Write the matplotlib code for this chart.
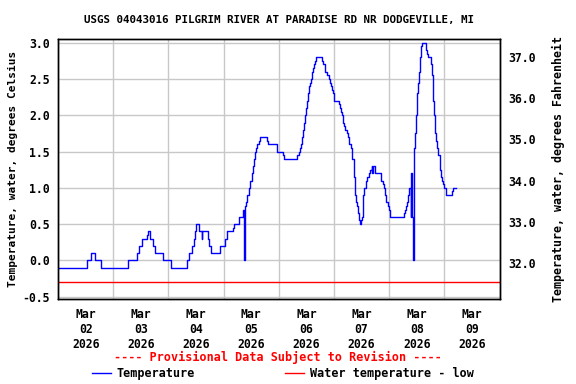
import numpy as np
import matplotlib
matplotlib.use('Agg')
import matplotlib.pyplot as plt
import matplotlib.dates as mdates
from matplotlib.lines import Line2D

# hours since 2026-03-02 00:00, water temperature in deg C
hours = [0, 12.7, 14.3, 16.2, 18.5, 30.6, 34.5, 35.3, 36.5, 38.8,
         39.3, 40.1, 41.1, 42.2, 45.6, 49.3, 56.1, 57.1, 58.1, 59.3,
         59.7, 60.1, 61.4, 62.5, 62.8, 65.0, 65.8, 66.7, 70.3, 72.8,
         73.5, 76.2, 76.7, 78.8, 80.6, 80.7, 80.9, 81.5, 81.9, 82.3,
         83.2, 83.6, 84.5, 84.9, 85.4, 85.8, 86.2, 86.7, 87.5, 88.0,
         91.0, 91.5, 95.0, 97.7, 98.1, 104.1, 104.7, 105.2, 105.7, 106.2,
         106.7, 107.1, 107.6, 108.0, 108.4, 108.9, 109.3, 109.7, 110.0, 110.5,
         110.9, 111.3, 111.8, 112.2, 114.9, 115.4, 116.3, 117.1, 118.0, 118.4,
         118.9, 119.3, 119.7, 120.2, 122.1, 122.5, 123.1, 123.5, 123.9, 124.4,
         124.8, 125.5, 126.0, 126.4, 127.3, 127.7, 128.6, 129.0, 129.5, 129.9,
         130.3, 130.8, 131.2, 131.6, 132.1, 132.5, 132.8, 133.2, 134.0, 134.5,
         135.1, 135.7, 136.6, 136.7, 137.1, 137.9, 140.5, 141.2, 141.6, 142.1,
         142.5, 143.4, 143.8, 144.4, 150.5, 150.9, 151.4, 151.9, 152.4, 152.8,
         153.4, 153.5, 153.7, 154.0, 154.3, 154.7, 155.0, 155.4, 155.8, 156.3,
         156.7, 157.1, 157.6, 158.0, 158.5, 160.2, 160.6, 161.1, 162.4, 162.8,
         163.2, 163.7, 164.1, 164.5, 165.0, 165.4, 165.9, 166.3, 166.7, 167.2,
         167.6, 168.0, 168.9, 171.2, 171.6, 173.0]
temp_c = [-0.1, 0.0, 0.1, 0.0, -0.1, 0.0, 0.1, 0.2, 0.3, 0.35,
          0.4, 0.3, 0.2, 0.1, 0.0, -0.1, 0.0, 0.1, 0.2, 0.3,
          0.4, 0.5, 0.4, 0.3, 0.4, 0.3, 0.2, 0.1, 0.2, 0.3,
          0.4, 0.45, 0.5, 0.6, 0.7, 0.35, 0.0, 0.75, 0.8, 0.9,
          1.0, 1.1, 1.2, 1.3, 1.4, 1.5, 1.55, 1.6, 1.65, 1.7,
          1.65, 1.6, 1.5, 1.45, 1.4, 1.45, 1.5, 1.55, 1.6, 1.7,
          1.8, 1.9, 2.0, 2.1, 2.2, 2.3, 2.4, 2.45, 2.5, 2.6,
          2.65, 2.7, 2.75, 2.8, 2.75, 2.7, 2.6, 2.55, 2.5, 2.45,
          2.4, 2.35, 2.3, 2.2, 2.15, 2.1, 2.05, 2.0, 1.9, 1.85,
          1.8, 1.75, 1.7, 1.6, 1.55, 1.4, 1.15, 0.9, 0.8, 0.75,
          0.65, 0.55, 0.5, 0.55, 0.6, 0.75, 0.9, 1.0, 1.1, 1.15,
          1.2, 1.25, 1.3, 1.2, 1.3, 1.2, 1.1, 1.05, 1.0, 0.9,
          0.8, 0.75, 0.7, 0.6, 0.65, 0.7, 0.75, 0.8, 0.9, 1.0,
          1.15, 0.6, 1.2, 0.6, 0.0, 1.45, 1.55, 1.75, 2.0, 2.3,
          2.45, 2.6, 2.8, 2.95, 3.0, 2.9, 2.85, 2.8, 2.7, 2.55,
          2.2, 2.0, 1.75, 1.65, 1.55, 1.45, 1.35, 1.25, 1.15, 1.1,
          1.05, 1.0, 0.9, 0.95, 1.0, 1.0]
low_threshold_c = -0.3

title = 'USGS 04043016 PILGRIM RIVER AT PARADISE RD NR DODGEVILLE, MI'
start = np.datetime64('2026-03-02T00:00')
end = np.datetime64('2026-03-10T00:00')

plt.rcParams['font.family'] = 'DejaVu Sans Mono'
plt.rcParams['font.weight'] = 'bold'
plt.rcParams['axes.titleweight'] = 'bold'
plt.rcParams['axes.labelweight'] = 'bold'

times = start + (np.array(hours) * 60).astype('timedelta64[m]')

fig = plt.figure(figsize=(5.76, 3.84), dpi=100)
ax = fig.add_axes([0.1009, 0.2206, 0.7663, 0.6771])

ax.plot(times, temp_c, color='#0000ff', lw=1.0, drawstyle='steps-post')
ax.axhline(low_threshold_c, color='#ff0000', lw=1.0)

ax.set_xlim(start, end)
ax.set_ylim(-0.536, 3.047)
ax.set_yticks(np.arange(-0.5, 3.01, 0.5))
ax.yaxis.set_major_formatter(plt.FormatStrFormatter('%.1f'))
ax.xaxis.set_major_locator(mdates.HourLocator(byhour=12))
ax.xaxis.set_major_formatter(mdates.DateFormatter('%b\n%d\n%Y'))
ax.xaxis.set_minor_locator(mdates.DayLocator())
ax.grid(which='minor', axis='x', color='#c8c8c8', lw=1.0)
ax.grid(which='major', axis='y', color='#c8c8c8', lw=1.0)
ax.tick_params(which='both', length=0, labelsize=8.3)
ax.tick_params(axis='x', pad=6)
ax.tick_params(axis='y', pad=6)
ax.set_ylabel('Temperature, water, degrees Celsius', fontsize=8.0, labelpad=3)
ax.set_title(title, fontsize=7.8, pad=12)

ax2 = ax.twinx()
ax2.set_ylim(31.13, 37.42)
ax2.set_yticks(np.arange(32, 37.1, 1.0))
ax2.yaxis.set_major_formatter(plt.FormatStrFormatter('%.1f'))
ax2.tick_params(length=0, labelsize=8.3, pad=6)
ax2.set_ylabel('Temperature, water, degrees Fahrenheit', fontsize=8.4, labelpad=12)

for a in (ax, ax2):
    for s in a.spines.values():
        s.set_linewidth(1.0)

fig.text(0.482, 0.068, '---- Provisional Data Subject to Revision ----',
         color='#ff0000', ha='center', va='center', fontsize=8.5)

handles = [Line2D([], [], color='#0000ff', lw=1.0),
           Line2D([], [], color='#ff0000', lw=1.0)]
fig.legend(handles, ['Temperature', 'Water temperature - low'],
           loc='center left', bbox_to_anchor=(0.16, 0.028), ncol=2,
           frameon=False, fontsize=8.5, handlelength=1.6, handletextpad=0.5,
           columnspacing=7.6, borderpad=0, borderaxespad=0)

fig.savefig('out.png', dpi=100)
